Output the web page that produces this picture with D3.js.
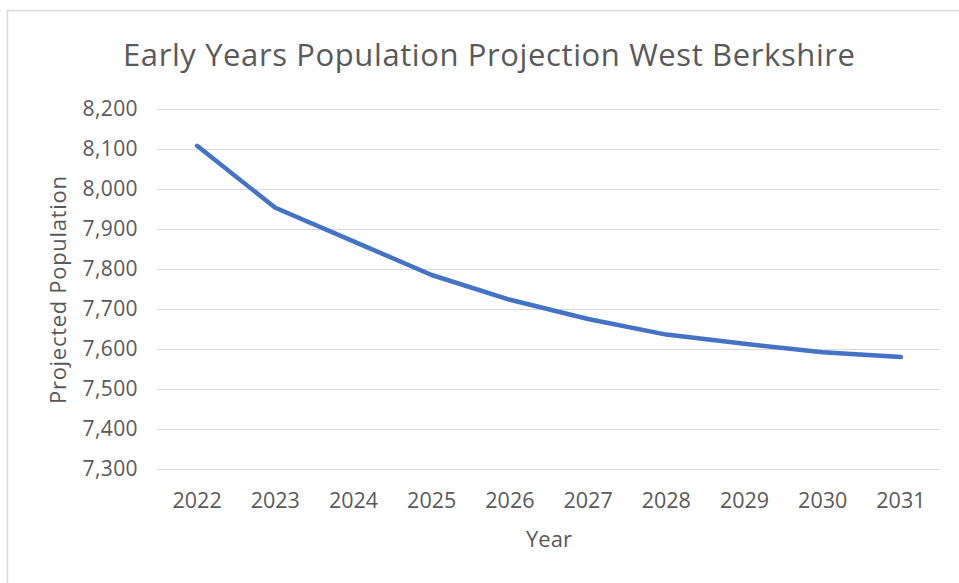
<!DOCTYPE html>
<html>
<head>
<meta charset="utf-8">
<script src="https://d3js.org/d3.v7.min.js"></script>
<style>
  body { margin: 0; background: #fff; }
  svg { display: block; }
  svg text { font-family: "Open Sans", "Noto Sans", sans-serif; }
  .grid line { stroke: #d9d9d9; stroke-width: 1; }
  .tick text { fill: #595959; }
</style>
</head>
<body>
<script>
  // data
  var years = ["2022", "2023", "2024", "2025", "2026", "2027", "2028", "2029", "2030", "2031"];
  var population = [8108, 7953, 7869, 7785, 7723, 7675, 7636, 7613, 7592, 7580];
  var yTicks = [7300, 7400, 7500, 7600, 7700, 7800, 7900, 8000, 8100, 8200];

  var width = 959, height = 583;
  var margin = {top: 109, right: 19, bottom: 114, left: 158};

  var svg = d3.select("body").append("svg")
    .attr("width", width)
    .attr("height", height);

  // chart border (only top and left visible in the picture)
  svg.append("rect")
    .attr("x", 7.5).attr("y", 10.5)
    .attr("width", 1000).attr("height", 1000)
    .attr("fill", "none")
    .attr("stroke", "#d9d9d9")
    .attr("stroke-width", 1.5);

  var x = d3.scaleBand()
    .domain(years)
    .range([margin.left, width - margin.right]);

  var y = d3.scaleLinear()
    .domain([7300, 8200])
    .range([height - margin.bottom, margin.top]);

  // gridlines
  svg.append("g").attr("class", "grid")
    .selectAll("line")
    .data(yTicks)
    .enter().append("line")
    .attr("x1", margin.left)
    .attr("x2", width - margin.right)
    .attr("y1", d => Math.round(y(d)) + 0.5)
    .attr("y2", d => Math.round(y(d)) + 0.5);

  // y axis labels
  var yAxis = d3.axisLeft(y)
    .tickValues(yTicks)
    .tickFormat(d3.format(","))
    .tickSize(0)
    .tickPadding(20);
  svg.append("g")
    .attr("transform", "translate(" + margin.left + ",0)")
    .call(yAxis)
    .call(g => g.select(".domain").remove())
    .attr("font-family", null)
    .selectAll("text").style("font-size", "21px").style("letter-spacing", "0.4px");

  // x axis labels
  var xAxis = d3.axisBottom(x)
    .tickSize(0)
    .tickPadding(24);
  svg.append("g")
    .attr("transform", "translate(0," + (height - margin.bottom) + ")")
    .call(xAxis)
    .call(g => g.select(".domain").remove())
    .attr("font-family", null)
    .selectAll("text").style("font-size", "21.5px");

  // line
  var line = d3.line()
    .x((d, i) => x(years[i]) + x.bandwidth() / 2)
    .y(d => y(d));

  svg.append("path")
    .datum(population)
    .attr("d", line)
    .attr("fill", "none")
    .attr("stroke", "#4472c4")
    .attr("stroke-width", 4.5)
    .attr("stroke-linecap", "round")
    .attr("stroke-linejoin", "round");

  // title
  svg.append("text")
    .attr("x", 489)
    .attr("y", 66)
    .attr("text-anchor", "middle")
    .attr("fill", "#595959")
    .style("font-size", "31px")
    .attr("textLength", 732)
    .attr("lengthAdjust", "spacing")
    .text("Early Years Population Projection West Berkshire");

  // axis titles
  svg.append("text")
    .attr("x", 549)
    .attr("y", 547)
    .attr("text-anchor", "middle")
    .attr("fill", "#595959")
    .style("font-size", "22px")
    .text("Year");

  svg.append("text")
    .attr("transform", "translate(66,290) rotate(-90)")
    .attr("text-anchor", "middle")
    .attr("fill", "#595959")
    .style("font-size", "22px")
    .attr("textLength", 228)
    .attr("lengthAdjust", "spacing")
    .text("Projected Population");
</script>
</body>
</html>
